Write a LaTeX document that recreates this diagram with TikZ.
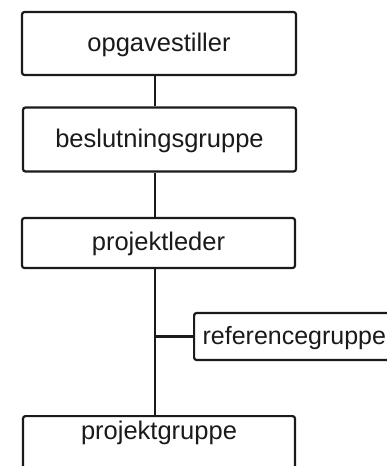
\documentclass[tikz,border=0pt]{standalone}
\usepackage{fontspec}
\setmainfont{Liberation Sans}
\begin{document}
\begin{tikzpicture}[x=1pt,y=-1pt,
  box/.style={draw=ink, line width=2.2pt, rounded corners=2.5pt, fill=white,
    font=\fontsize{25.5}{30}\selectfont, text=ink,
    text height=19pt, text depth=4pt, inner sep=0pt},
  link/.style={draw=ink, line width=2.2pt}]
\definecolor{ink}{HTML}{1A1A1A}
\useasboundingbox (0,0) rectangle (387,466);
\clip (0,0) rectangle (387,466);
% vertical spine of the organisation chart
\coordinate (sp) at (155,0);
% main chain of boxes
\node[box, minimum width=274pt, minimum height=63pt] (opg) at (159,43.5) {opgavestiller};
\node[box, minimum width=273pt, minimum height=64pt] (besl) at (159.5,139.5) {beslutningsgruppe};
\node[box, minimum width=273pt, minimum height=50pt] (pl) at (158.5,243) {projektleder};
% side box, running past the right edge
\node[box, anchor=west, inner xsep=8.5pt, minimum height=47pt,
  font=\fontsize{25}{30}\selectfont] (ref) at (193,336.5) {referencegruppe\hspace{20pt}};
% bottom box, running past the lower edge
\node[box, anchor=north, minimum width=272pt, inner ysep=4pt, text height=19pt, text depth=60pt] (pg) at (159,415) {projektgruppe};
% connectors
\draw[link] (opg.south -| sp) -- (besl.north -| sp);
\draw[link] (besl.south -| sp) -- (pl.north -| sp);
\draw[link] (pl.south -| sp) -- (pg.north -| sp);
\draw[link] (ref.west -| sp) -- (ref.west);
\end{tikzpicture}
\end{document}
